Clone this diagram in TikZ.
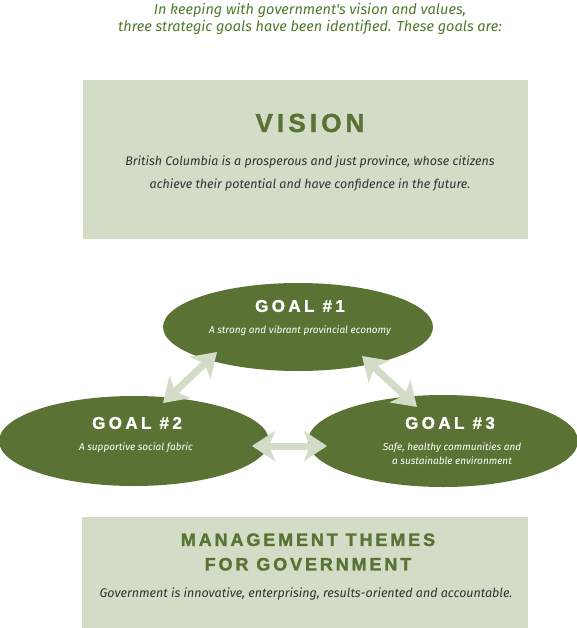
\documentclass[tikz,border=0pt]{standalone}
\usepackage{fontspec}
\usetikzlibrary{shapes.geometric,arrows.meta}
\newfontfamily\bodyfont{Fira Sans}
\newfontfamily\titlefont[LetterSpace=16,BoldFeatures={FakeBold=1.5}]{Liberation Sans}
\newfontfamily\goalfont[LetterSpace=20,BoldFeatures={FakeBold=1.2}]{Liberation Sans}
\definecolor{boxbg}{HTML}{D3DCC6}
\definecolor{dkgreen}{HTML}{5A7334}
\definecolor{intro}{HTML}{4F7A2A}
\definecolor{bodytxt}{HTML}{333333}
\tikzset{
  panel/.style={fill=boxbg, draw=none, inner sep=0},
  goal/.style={ellipse, fill=dkgreen, draw=none, inner sep=0},
  bigtitle/.style={font=\titlefont\bfseries\fontsize{26}{28}\selectfont, text=dkgreen},
  mgtitle/.style={font=\titlefont\bfseries\fontsize{18}{24.5}\selectfont, text=dkgreen, align=center},
  goaltitle/.style={font=\goalfont\bfseries\fontsize{17}{20}\selectfont, text=white},
  goalsub/.style={font=\bodyfont\itshape\fontsize{10}{14}\selectfont, text=white, align=center},
  bodytext/.style={font=\bodyfont\itshape\fontsize{12.5}{23}\selectfont, text=bodytxt, align=center},
  introtext/.style={font=\bodyfont\itshape\fontsize{14.5}{17}\selectfont, text=intro, align=center},
  link/.style={draw=boxbg, line width=7pt, {Stealth[width=30pt,length=23pt,inset=6pt]}-{Stealth[width=30pt,length=23pt,inset=6pt]}}
}
\begin{document}
\begin{tikzpicture}[x=1pt,y=-1pt]
\useasboundingbox (0,0) rectangle (577,628);
\node[introtext] (intro) at (310,19) {In keeping with government's vision and values,\\three strategic goals have been identified. These goals are:};
\node[panel, minimum width=445pt, minimum height=159pt] (vision) at (305.5,159.5) {};
\node[bigtitle] (vt) at (310,123) {VISION};
\node[bodytext] (vb) at (310,173) {British Columbia is a prosperous and just province, whose citizens\\achieve their potential and have confidence in the future.};
\node[goal, minimum width=270pt, minimum height=88pt] (g1) at (298,327) {};
\node[goal, minimum width=270pt, minimum height=90pt] (g2) at (134,441) {};
\node[goal, minimum width=270pt, minimum height=92pt] (g3) at (443,441) {};
\node[goaltitle] (g1t) at (300,306) {GOAL \#1};
\node[goalsub] (g1s) at (300,331) {A strong and vibrant provincial economy};
\node[goaltitle] (g2t) at (137,423) {GOAL \#2};
\node[goalsub] (g2s) at (136,448) {A supportive social fabric};
\node[goaltitle] (g3t) at (450,423) {GOAL \#3};
\node[goalsub] (g3s) at (452,454) {Safe, healthy communities and\\a sustainable environment};
\coordinate (a1s) at (163,403);
\coordinate (a1e) at (217,352);
\coordinate (a2s) at (362,356);
\coordinate (a2e) at (417,407);
\coordinate (a3s) at (252,446);
\coordinate (a3e) at (327,446);
\draw[link] (a1s) -- (a1e);
\draw[link] (a2s) -- (a2e);
\draw[link] (a3s) -- (a3e);
\node[panel, minimum width=446pt, minimum height=111pt] (mgmt) at (305,572.5) {};
\node[mgtitle] (mt) at (308,552) {MANAGEMENT THEMES\\FOR GOVERNMENT};
\node[bodytext] (mb) at (306,594) {Government is innovative, enterprising, results-oriented and accountable.};
\end{tikzpicture}
\end{document}
